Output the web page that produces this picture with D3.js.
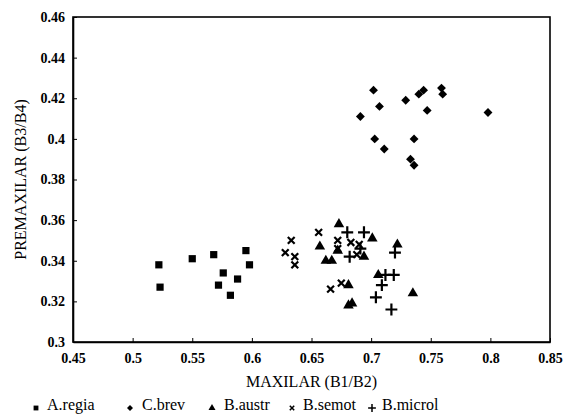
<!DOCTYPE html>
<html>
<head>
<meta charset="utf-8">
<script src="https://cdn.jsdelivr.net/npm/d3@7"></script>
<style>
  body { margin: 0; background: #fff; }
  text { font-family: "Liberation Serif", "Times New Roman", serif; fill: #000; }
</style>
</head>
<body>
<div id="chart"></div>
<script>
const w = 564;
const h = 417;
const margin = {top: 17, right: 14, bottom: 75, left: 73};

// A.regia (squares)
const aregia = [
  [0.522, 0.338], [0.523, 0.327], [0.550, 0.341], [0.568, 0.343], [0.595, 0.345],
  [0.598, 0.338], [0.576, 0.334], [0.572, 0.328], [0.588, 0.331], [0.582, 0.323]
];
// C.brev (diamonds)
const cbrev = [
  [0.702, 0.424], [0.707, 0.416], [0.691, 0.411], [0.729, 0.419], [0.740, 0.422],
  [0.744, 0.424], [0.759, 0.425], [0.760, 0.422], [0.747, 0.414], [0.798, 0.413],
  [0.703, 0.400], [0.711, 0.395], [0.736, 0.400], [0.733, 0.390], [0.736, 0.387]
];
// B.austr (triangles)
const baustr = [
  [0.673, 0.358], [0.701, 0.351], [0.657, 0.347], [0.722, 0.348], [0.662, 0.340],
  [0.667, 0.340], [0.694, 0.342], [0.672, 0.345], [0.706, 0.333], [0.681, 0.328],
  [0.735, 0.324], [0.681, 0.318], [0.684, 0.319]
];
// B.semot (x)
const bsemot = [
  [0.633, 0.350], [0.628, 0.344], [0.636, 0.342], [0.636, 0.338], [0.656, 0.354],
  [0.672, 0.350], [0.672, 0.346], [0.683, 0.349], [0.688, 0.343], [0.690, 0.348],
  [0.666, 0.326], [0.675, 0.329]
];
// B.microl (+)
const bmicrol = [
  [0.680, 0.354], [0.694, 0.354], [0.691, 0.346], [0.682, 0.342], [0.720, 0.344],
  [0.712, 0.333], [0.719, 0.333], [0.709, 0.328], [0.704, 0.322], [0.717, 0.316]
];

const xTicks = [0.45, 0.5, 0.55, 0.6, 0.65, 0.7, 0.75, 0.8, 0.85];
const yTicks = [0.3, 0.32, 0.34, 0.36, 0.38, 0.4, 0.42, 0.44, 0.46];
const legendNames = ["A.regia", "C.brev", "B.austr", "B.semot", "B.microl"];

const series = [
  {name: legendNames[0], data: aregia, symbol: d3.symbolSquare, size: 52, stroke: false},
  {name: legendNames[1], data: cbrev, symbol: d3.symbolDiamond2, size: 50, stroke: false},
  {name: legendNames[2], data: baustr, symbol: d3.symbolTriangle, size: 48, stroke: false},
  {name: legendNames[3], data: bsemot, symbol: d3.symbolTimes, size: 32, stroke: true},
  {name: legendNames[4], data: bmicrol, symbol: d3.symbolPlus, size: 48, stroke: true}
];

const xScale = d3.scaleLinear()
                 .domain([0.45, 0.85])
                 .range([margin.left, w - margin.right]);

const yScale = d3.scaleLinear()
                 .domain([0.3, 0.46])
                 .range([h - margin.bottom, margin.top]);

const fmt = d => String(+d.toFixed(2));

const svg = d3.select("#chart")
              .append("svg")
              .attr("width", w)
              .attr("height", h);

// frame
svg.append("rect")
  .attr("x", margin.left)
  .attr("y", margin.top)
  .attr("width", w - margin.right - margin.left)
  .attr("height", h - margin.bottom - margin.top)
  .attr("fill", "none")
  .attr("stroke", "#000")
  .attr("stroke-width", 1.6);

//X axis
const xAxis = d3.axisBottom(xScale)
                .tickValues(xTicks)
                .tickSizeInner(-4)
                .tickSizeOuter(0)
                .tickPadding(11)
                .tickFormat(fmt);

svg.append("g")
  .attr("class", "x-axis")
  .attr("transform", "translate(0," + (h - margin.bottom) + ")")
  .call(xAxis);

//Y axis
const yAxis = d3.axisLeft(yScale)
                .tickValues(yTicks)
                .tickSizeInner(-4)
                .tickSizeOuter(0)
                .tickPadding(8)
                .tickFormat(fmt);

svg.append("g")
  .attr("class", "y-axis")
  .attr("transform", "translate(" + margin.left + ",0)")
  .call(yAxis);

svg.selectAll(".x-axis, .y-axis")
  .attr("font-family", "'Liberation Serif', 'Times New Roman', serif")
  .attr("font-size", 14)
  .attr("font-weight", "bold");
svg.selectAll(".domain").attr("stroke-width", 1.6);

// axis titles
svg.append("text")
  .attr("x", (margin.left + w - margin.right) / 2)
  .attr("y", 387)
  .attr("text-anchor", "middle")
  .style("font-size", "16px")
  .text("MAXILAR (B1/B2)");

svg.append("text")
  .attr("transform", "translate(26," + ((margin.top + h - margin.bottom) / 2) + ") rotate(-90)")
  .attr("text-anchor", "middle")
  .style("font-size", "16px")
  .text("PREMAXILAR (B3/B4)");

// points
series.forEach(s => {
  svg.append("g")
    .selectAll("path")
    .data(s.data)
    .join("path")
    .attr("transform", d => "translate(" + xScale(d[0]) + "," + yScale(d[1]) + ")")
    .attr("d", d3.symbol().type(s.symbol).size(s.size))
    .attr("fill", s.stroke ? "none" : "#000")
    .attr("stroke", "#000")
    .attr("stroke-width", s.stroke ? 2.2 : 0);
});

// legend
const legendMarkX = [36, 130, 212, 292, 372];
const legendTextX = [47, 142, 224, 303, 382];
const legend = svg.append("g");
series.forEach((s, i) => {
  legend.append("path")
    .attr("transform", "translate(" + legendMarkX[i] + ",408)")
    .attr("d", d3.symbol().type(s.symbol).size(s.size * 0.45))
    .attr("fill", s.stroke ? "none" : "#000")
    .attr("stroke", "#000")
    .attr("stroke-width", s.stroke ? 1.5 : 0);
  legend.append("text")
    .attr("x", legendTextX[i])
    .attr("y", 410)
    .style("font-size", "16px")
    .text(s.name);
});
</script>
</body>
</html>
